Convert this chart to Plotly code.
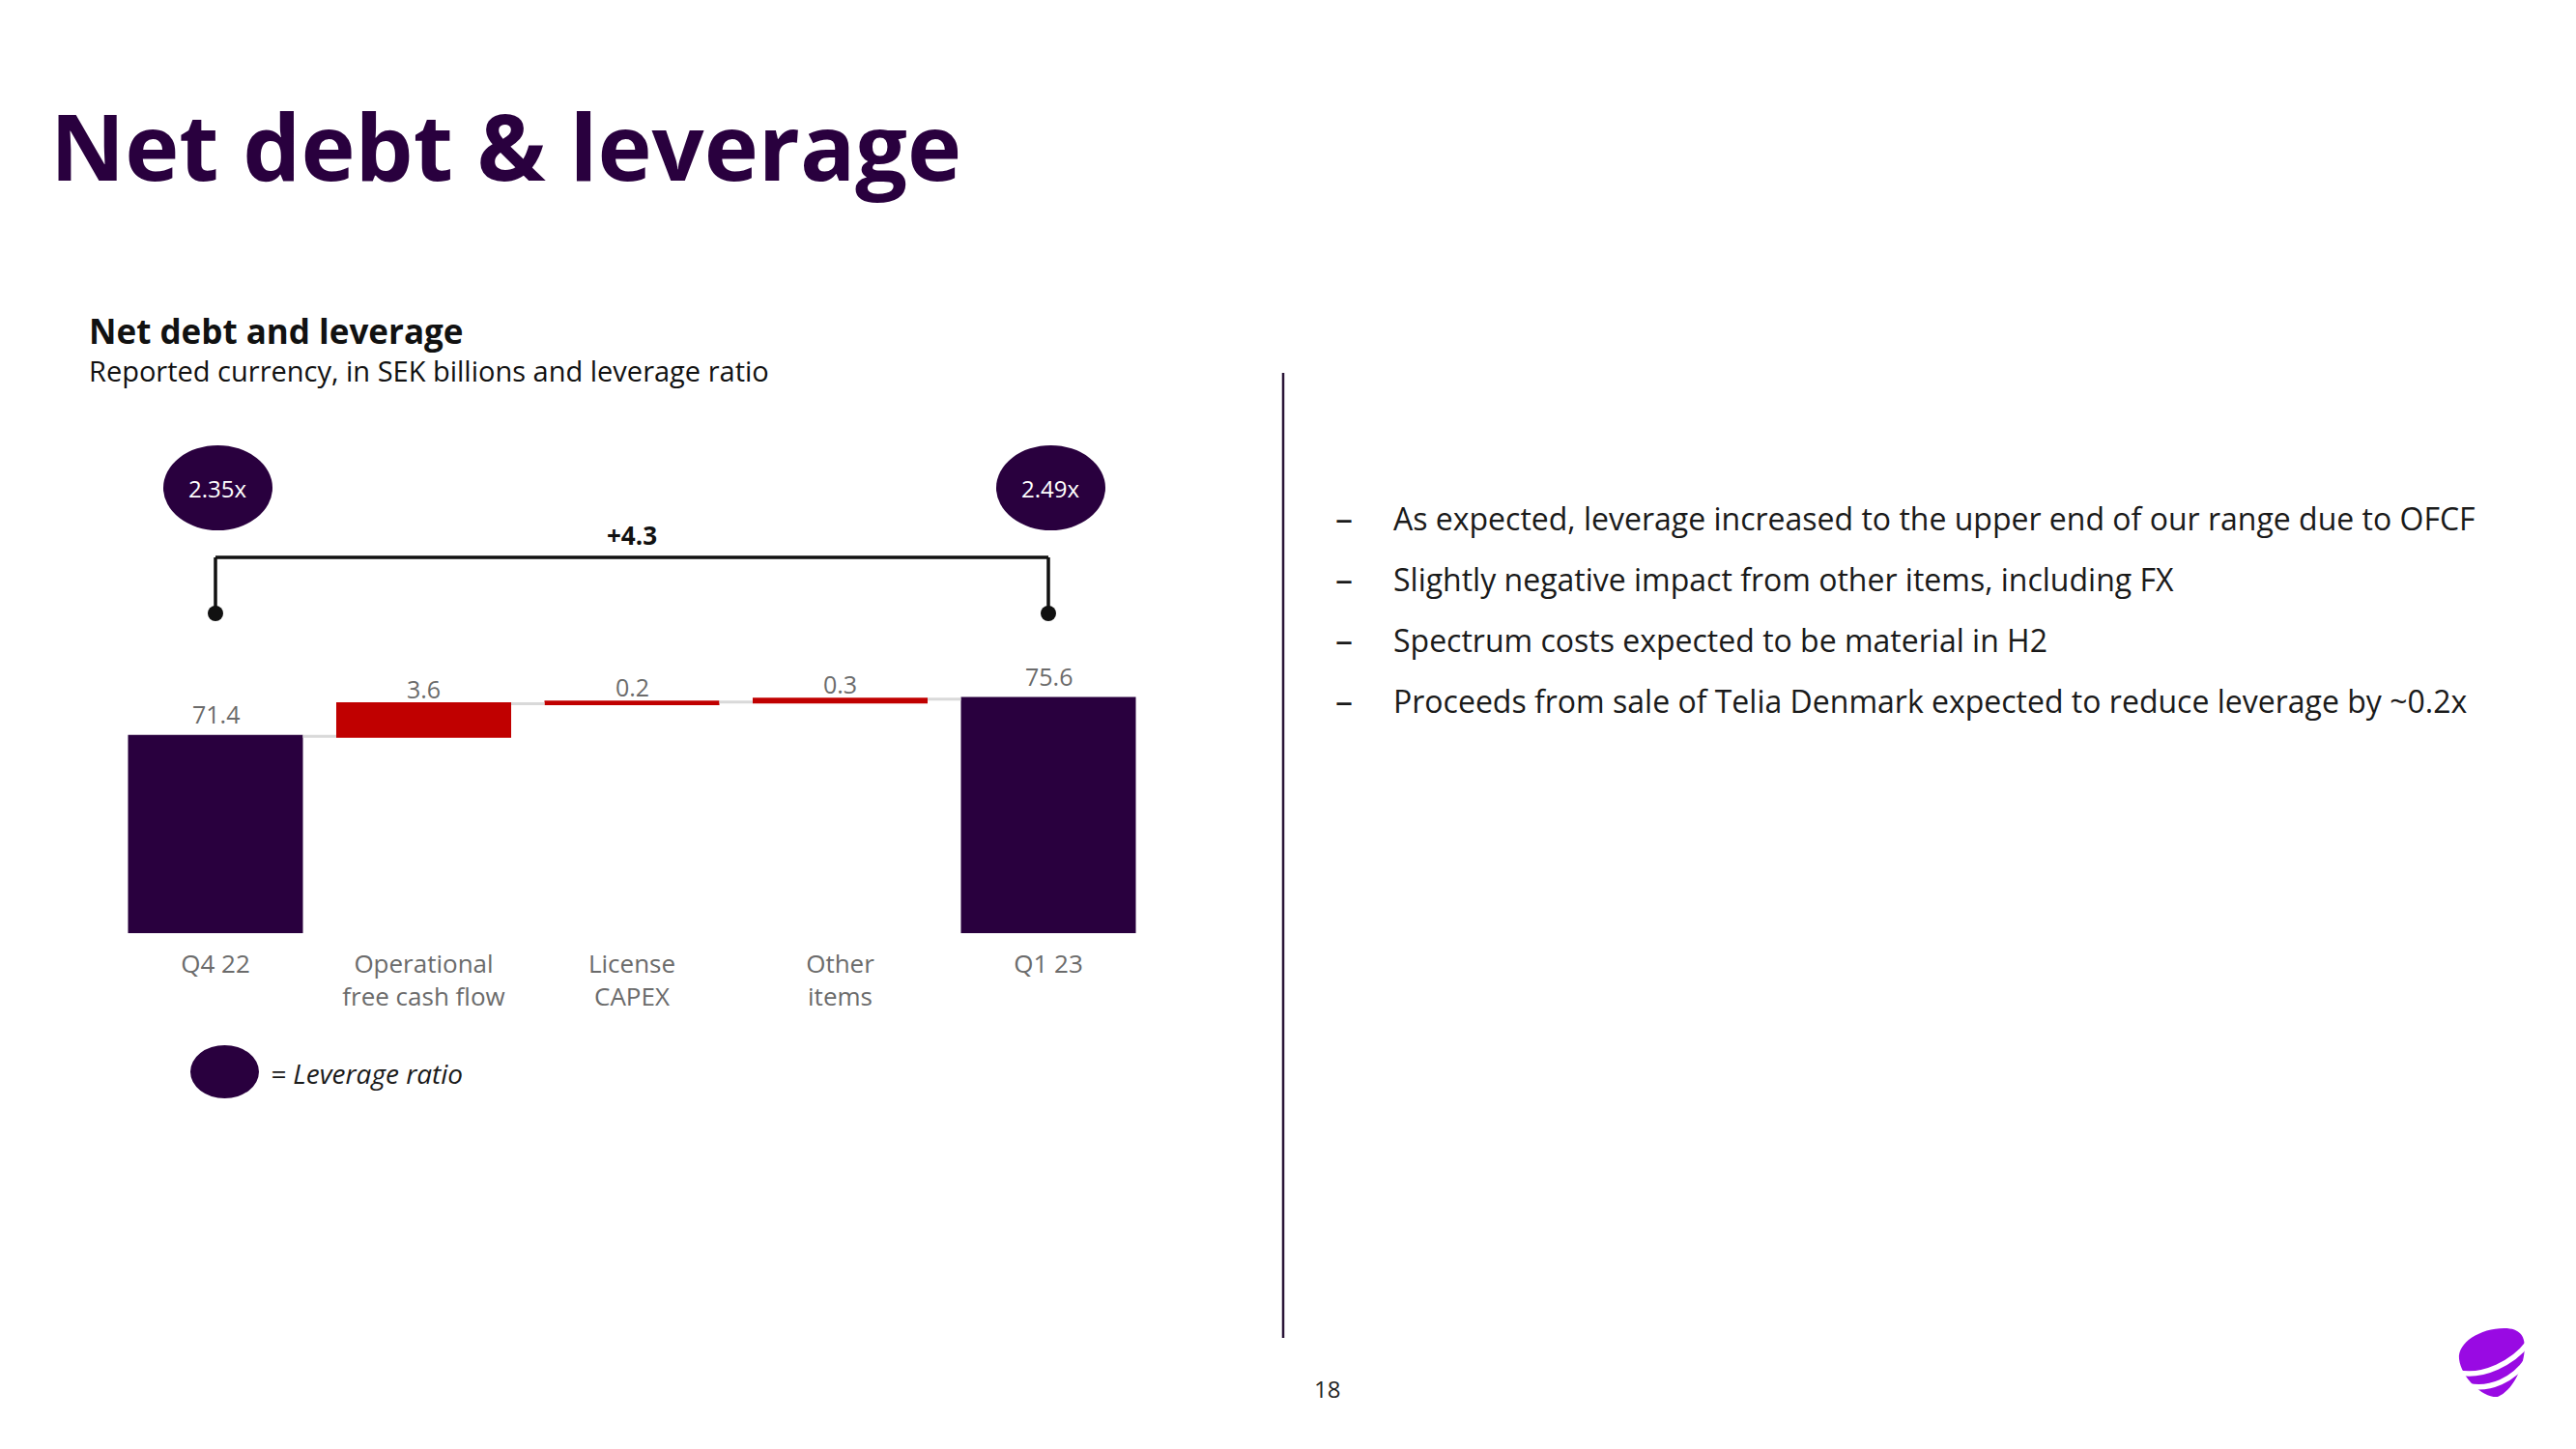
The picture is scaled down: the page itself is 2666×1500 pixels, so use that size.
import plotly.graph_objects as go

# ---------------- data ----------------
categories = ["Q4 22", "Operational<br>free cash flow", "License<br>CAPEX", "Other<br>items", "Q1 23"]
measures = ["absolute", "relative", "relative", "relative", "absolute"]
values = [71.4, 3.6, 0.2, 0.3, 75.6]
value_labels = ["71.4", "3.6", "0.2", "0.3", "75.6"]
leverage_labels = ["2.35x", "2.49x"]
change_label = "+4.3"
bullets = [
    "As expected, leverage increased to the upper end of our range due to OFCF",
    "Slightly negative impact from other items, including FX",
    "Spectrum costs expected to be material in H2",
    "Proceeds from sale of Telia Denmark expected to reduce leverage by ~0.2x",
]

# ---------------- style ----------------
W, H = 2666, 1500          # browser window
M = 8                      # default body margin of the html page
FW, FH = W - 2 * M, H - 2 * M
PURPLE = "#29003E"
RED = "#C00000"
GRAY_TXT = "#6B6B6B"
FONT = "Open Sans"


def fx(px):
    return (px - M) / FW


def fy(py):
    return 1 - (py - M) / FH


# y axis geometry (page pixels)
plot_bottom, plot_top = 966, 440
y_min = 49.6
px_per_unit = 9.35
y_max = y_min + (plot_bottom - plot_top) / px_per_unit

fig = go.Figure()
fig.add_trace(go.Waterfall(
    x=categories, y=values, measure=measures,
    increasing=dict(marker=dict(color=RED)),
    decreasing=dict(marker=dict(color=RED)),
    totals=dict(marker=dict(color=PURPLE)),
    connector=dict(line=dict(color="#D9D9D9", width=3)),
    hoverinfo="skip", showlegend=False,
))

# running ends for value labels
ends = []
run = 0.0
for m, v in zip(measures, values):
    run = v if m == "absolute" else run + v
    ends.append(run)

annotations = []
for i, (lab, e, m) in enumerate(zip(value_labels, ends, measures)):
    annotations.append(dict(
        x=i, y=e, xref="x", yref="y", text=lab, showarrow=False,
        yanchor="middle", yshift=23 if m == "absolute" else 16,
        font=dict(family=FONT, size=25, color=GRAY_TXT),
    ))

shapes = []
# leverage ellipses
first, last = 0, len(categories) - 1
for idx, lab in zip([first, last], leverage_labels):
    shapes.append(dict(type="circle", xref="x", yref="paper",
                       xsizemode="pixel", ysizemode="pixel",
                       xanchor=idx, yanchor=fy(505),
                       x0=-54, x1=59, y0=-44, y1=44,
                       fillcolor=PURPLE, line=dict(width=0)))
    annotations.append(dict(x=idx, y=fy(505), xref="x", yref="paper", text=lab,
                            showarrow=False, xshift=2, yanchor="middle",
                            font=dict(family=FONT, size=24, color="white")))

# bracket
br_y, dot_y = fy(577), fy(635)
blk = dict(color="#111111", width=3.5)
shapes.append(dict(type="line", xref="x", yref="paper", x0=first, x1=last, y0=br_y, y1=br_y, line=blk))
for idx in [first, last]:
    shapes.append(dict(type="line", xref="x", yref="paper", x0=idx, x1=idx, y0=br_y, y1=dot_y, line=blk))
    shapes.append(dict(type="circle", xref="x", yref="paper",
                       xsizemode="pixel", ysizemode="pixel", xanchor=idx, yanchor=dot_y,
                       x0=-8, x1=8, y0=-8, y1=8, fillcolor="#111111", line=dict(width=0)))
annotations.append(dict(x=(first + last) / 2, y=fy(554), xref="x", yref="paper",
                        text="<b>" + change_label + "</b>", showarrow=False, yanchor="middle",
                        font=dict(family=FONT, size=26, color="#111111")))

# legend ellipse
shapes.append(dict(type="circle", xref="paper", yref="paper",
                   x0=fx(197), x1=fx(268), y0=fy(1137), y1=fy(1082),
                   fillcolor=PURPLE, line=dict(width=0)))
annotations.append(dict(x=fx(278), y=fy(1111), xref="paper", yref="paper",
                        xanchor="left", yanchor="middle",
                        text="<i>= Leverage ratio</i>", showarrow=False,
                        font=dict(family=FONT, size=28, color="#1A1A1A")))

# divider
shapes.append(dict(type="line", xref="paper", yref="paper", x0=fx(1328), x1=fx(1328),
                   y0=fy(386), y1=fy(1385), line=dict(color="#2B1538", width=2.5)))

# titles
annotations.append(dict(x=fx(50), y=fy(150), xref="paper", yref="paper", xanchor="left", yanchor="middle",
                        text="<b>Net debt & leverage</b>", showarrow=False,
                        font=dict(family=FONT, size=95, color=PURPLE)))
annotations.append(dict(x=fx(90), y=fy(342), xref="paper", yref="paper", xanchor="left", yanchor="middle",
                        text="<b>Net debt and leverage</b>", showarrow=False,
                        font=dict(family=FONT, size=35, color="#111111")))
annotations.append(dict(x=fx(90), y=fy(384), xref="paper", yref="paper", xanchor="left", yanchor="middle",
                        text="Reported currency, in SEK billions and leverage ratio", showarrow=False,
                        font=dict(family=FONT, size=29, color="#111111")))

# bullets
for k, b in enumerate(bullets):
    yy = fy(536 + k * 63.3)
    annotations.append(dict(x=fx(1380), y=yy, xref="paper", yref="paper", xanchor="left", yanchor="middle",
                            text="–", showarrow=False, font=dict(family=FONT, size=36, color="#1A1A1A")))
    annotations.append(dict(x=fx(1440), y=yy, xref="paper", yref="paper", xanchor="left", yanchor="middle",
                            text=b, showarrow=False, font=dict(family=FONT, size=32, color="#1A1A1A")))

# page number
annotations.append(dict(x=fx(1373), y=fy(1437), xref="paper", yref="paper", xanchor="center", yanchor="middle",
                        text="18", showarrow=False, font=dict(family=FONT, size=24, color="#222222")))


# logo (Telia-like pebble), defined in a local 360x360 grid mapped to the page
def lp(zx, zy):
    return f"{fx(2530 + zx / 3):.5f},{fy(1360 + zy / 3):.5f}"


pebble = (f"M {lp(45,140)} C {lp(40,90)} {lp(110,45)} {lp(185,45)} "
          f"C {lp(235,45)} {lp(252,70)} {lp(248,115)} "
          f"C {lp(244,170)} {lp(210,240)} {lp(165,258)} "
          f"C {lp(120,262)} {lp(52,200)} {lp(45,140)} Z")
shapes.append(dict(type="path", xref="paper", yref="paper", path=pebble,
                   fillcolor="#990AE3", line=dict(width=0)))
stripe1 = f"M {lp(40,182)} C {lp(120,200)} {lp(215,150)} {lp(258,92)}"
stripe2 = f"M {lp(75,224)} C {lp(140,238)} {lp(215,205)} {lp(255,145)}"
for sp in (stripe1, stripe2):
    shapes.append(dict(type="path", xref="paper", yref="paper", path=sp,
                       line=dict(color="white", width=5.5)))

fig.update_layout(
    width=FW, height=FH,
    margin=dict(l=0, r=0, t=0, b=0),
    paper_bgcolor="white", plot_bgcolor="white",
    waterfallgap=0.16,
    xaxis=dict(domain=[fx(115.25), fx(1192.75)], showgrid=False, zeroline=False, showline=False,
               ticks="", ticklabelstandoff=14,
               tickfont=dict(family=FONT, size=26, color=GRAY_TXT), fixedrange=True),
    yaxis=dict(domain=[fy(plot_bottom), fy(plot_top)], range=[y_min, y_max], visible=False,
               fixedrange=True),
    shapes=shapes, annotations=annotations,
    font=dict(family=FONT),
)

fig.write_html("out.html")
